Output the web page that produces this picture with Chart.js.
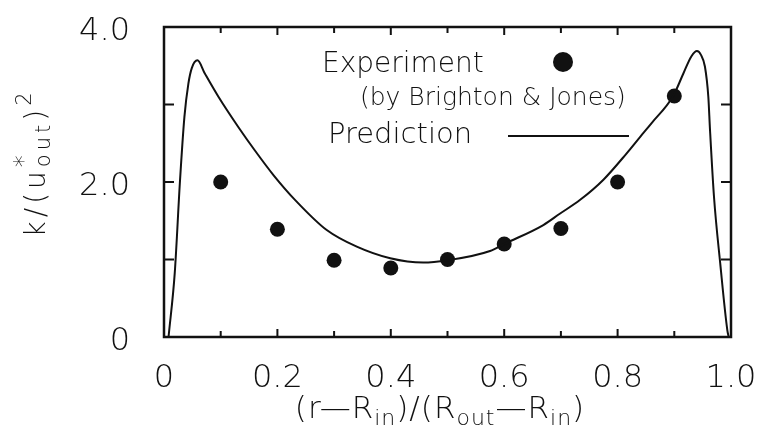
<!DOCTYPE html>
<html>
<head>
<meta charset="utf-8">
<script src="https://cdn.jsdelivr.net/npm/chart.js@4/dist/chart.umd.min.js"></script>
<style>
  html, body { margin: 0; padding: 0; background: #fff; }
  canvas { display: block; }
</style>
</head>
<body>
<canvas id="c" width="766" height="443"></canvas>
<script>
// experiment (Brighton & Jones)
const expX = [0.1, 0.2, 0.3, 0.4, 0.5, 0.6, 0.7, 0.8, 0.9];
const expY = [2.0, 1.39, 0.99, 0.89, 1.0, 1.2, 1.4, 2.0, 3.11];

// prediction curve
const predX = [0.008, 0.019, 0.028, 0.036, 0.043, 0.049, 0.059, 0.072, 0.096, 0.131, 0.160, 0.193,
  0.231, 0.287, 0.340, 0.399, 0.457, 0.50, 0.575, 0.60, 0.669, 0.698, 0.734, 0.775, 0.816,
  0.8395, 0.86, 0.898, 0.916, 0.93, 0.94, 0.947, 0.954, 0.960, 0.963, 0.970, 0.981, 0.9935, 0.996];
const predY = [0, 0.83, 1.99, 2.84, 3.27, 3.47, 3.57, 3.40, 3.10, 2.71, 2.41, 2.09,
  1.77, 1.38, 1.165, 1.015, 0.96, 0.99, 1.11, 1.20, 1.445, 1.59, 1.77, 2.03, 2.37,
  2.58, 2.76, 3.11, 3.40, 3.62, 3.69, 3.64, 3.49, 3.10, 2.67, 1.81, 0.95, 0.09, 0];

const xMin = 0, xMax = 1.0, xStep = 0.1;
const yMin = 0, yMax = 4.0, yStep = 1.0;

const FONT = "'DejaVu Sans', sans-serif";
const INK = '#111';

function xLabel(v) {
  const n = Math.round(v * 10);
  if (n % 2) return '';
  if (n === 0) return '0';
  return (n / 10).toFixed(1);
}
function yLabel(v) {
  const n = Math.round(v);
  if (n % 2) return '';
  if (n === 0) return '0';
  return n.toFixed(1);
}

// draw a line of mixed normal / sub / superscript text, centred on x
function drawRich(ctx, segs, x, y, spacing) {
  ctx.letterSpacing = spacing + 'px';
  let w = 0;
  segs.forEach(s => {
    ctx.font = `300 ${s.size}px ${FONT}`;
    if (!s.stay) w += ctx.measureText(s.t).width;
  });
  let cx = x - w / 2;
  segs.forEach(s => {
    ctx.font = `300 ${s.size}px ${FONT}`;
    ctx.fillText(s.t, cx, y + (s.dy || 0));
    if (!s.stay) cx += ctx.measureText(s.t).width;
  });
  ctx.letterSpacing = '0px';
}

function noPad(s) {
  s.paddingLeft = 0; s.paddingRight = 0; s.paddingTop = 0; s.paddingBottom = 0;
}

const framePlugin = {
  id: 'frame',
  afterDatasetsDraw(chart) {
    const { ctx, chartArea: a, scales: { x, y } } = chart;
    ctx.save();
    ctx.strokeStyle = INK;
    ctx.lineWidth = 2.5;
    ctx.strokeRect(a.left, a.top, a.right - a.left, a.bottom - a.top);
    ctx.lineWidth = 2;
    ctx.beginPath();
    for (let i = 1; i < Math.round((xMax - xMin) / xStep); i++) {
      const px = x.getPixelForValue(xMin + i * xStep);
      const len = i % 2 ? 6 : 8;
      ctx.moveTo(px, a.bottom); ctx.lineTo(px, a.bottom - len);
      ctx.moveTo(px, a.top); ctx.lineTo(px, a.top + len);
    }
    for (let i = 1; i < Math.round((yMax - yMin) / yStep); i++) {
      const py = y.getPixelForValue(yMin + i * yStep);
      ctx.moveTo(a.left, py); ctx.lineTo(a.left + 10, py);
      ctx.moveTo(a.right, py); ctx.lineTo(a.right - 10, py);
    }
    ctx.stroke();

    // legend block
    ctx.fillStyle = INK;
    ctx.textAlign = 'left';
    ctx.textBaseline = 'alphabetic';
    ctx.font = `300 28px ${FONT}`;
    ctx.fillText('Experiment', 322, 72);
    ctx.font = `300 25px ${FONT}`;
    ctx.fillText('(by Brighton & Jones)', 360, 105);
    ctx.font = `300 29px ${FONT}`;
    ctx.fillText('Prediction', 328, 143);
    ctx.beginPath();
    ctx.arc(563, 62, 10, 0, Math.PI * 2);
    ctx.fill();
    ctx.lineWidth = 2;
    ctx.beginPath();
    ctx.moveTo(508, 136); ctx.lineTo(629, 136);
    ctx.stroke();

    // axis titles
    drawRich(ctx, [
      { t: '(r\u2014R', size: 31 }, { t: 'in', size: 22, dy: 7 },
      { t: ')/(R', size: 31 }, { t: 'out', size: 22, dy: 7 },
      { t: '\u2014R', size: 31 }, { t: 'in', size: 22, dy: 7 }, { t: ')', size: 31 }
    ], 440, 418, 1);

    ctx.translate(45, 163);
    ctx.rotate(-Math.PI / 2);
    drawRich(ctx, [
      { t: 'k/(u', size: 28 }, { t: '*', size: 24, dy: -14, stay: true },
      { t: 'out', size: 21, dy: 5 }, { t: ')', size: 28 }, { t: '2', size: 21, dy: -14 }
    ], 0, 0, 4);
    ctx.restore();
  }
};

new Chart(document.getElementById('c'), {
  type: 'scatter',
  data: {
    datasets: [
      {
        label: 'Prediction',
        type: 'line',
        data: predX.map((v, i) => ({ x: v, y: predY[i] })),
        borderColor: INK,
        borderWidth: 2,
        pointRadius: 0,
        fill: false,
        cubicInterpolationMode: 'monotone'
      },
      {
        label: 'Experiment',
        data: expX.map((v, i) => ({ x: v, y: expY[i] })),
        backgroundColor: INK,
        borderWidth: 0,
        pointRadius: 7.5,
        pointHoverRadius: 7.5
      }
    ]
  },
  options: {
    responsive: false,
    animation: false,
    events: [],
    layout: { padding: { top: 27, right: 35, left: 0, bottom: 0 } },
    plugins: { legend: { display: false }, tooltip: { enabled: false } },
    scales: {
      x: {
        type: 'linear',
        min: xMin, max: xMax,
        afterFit: (s) => { s.height = 106; noPad(s); },
        grid: { display: false },
        border: { display: false },
        ticks: {
          stepSize: xStep, autoSkip: false, maxRotation: 0,
          padding: 14, color: INK,
          font: { family: FONT, size: 32, weight: 300 },
          callback: xLabel
        }
      },
      y: {
        type: 'linear',
        min: yMin, max: yMax,
        afterFit: (s) => { s.width = 164; noPad(s); },
        grid: { display: false },
        border: { display: false },
        ticks: {
          stepSize: yStep, autoSkip: false,
          padding: 26, labelOffset: 5, color: INK,
          font: { family: FONT, size: 32, weight: 300 },
          callback: yLabel
        }
      }
    }
  },
  plugins: [framePlugin]
});
</script>
</body>
</html>
